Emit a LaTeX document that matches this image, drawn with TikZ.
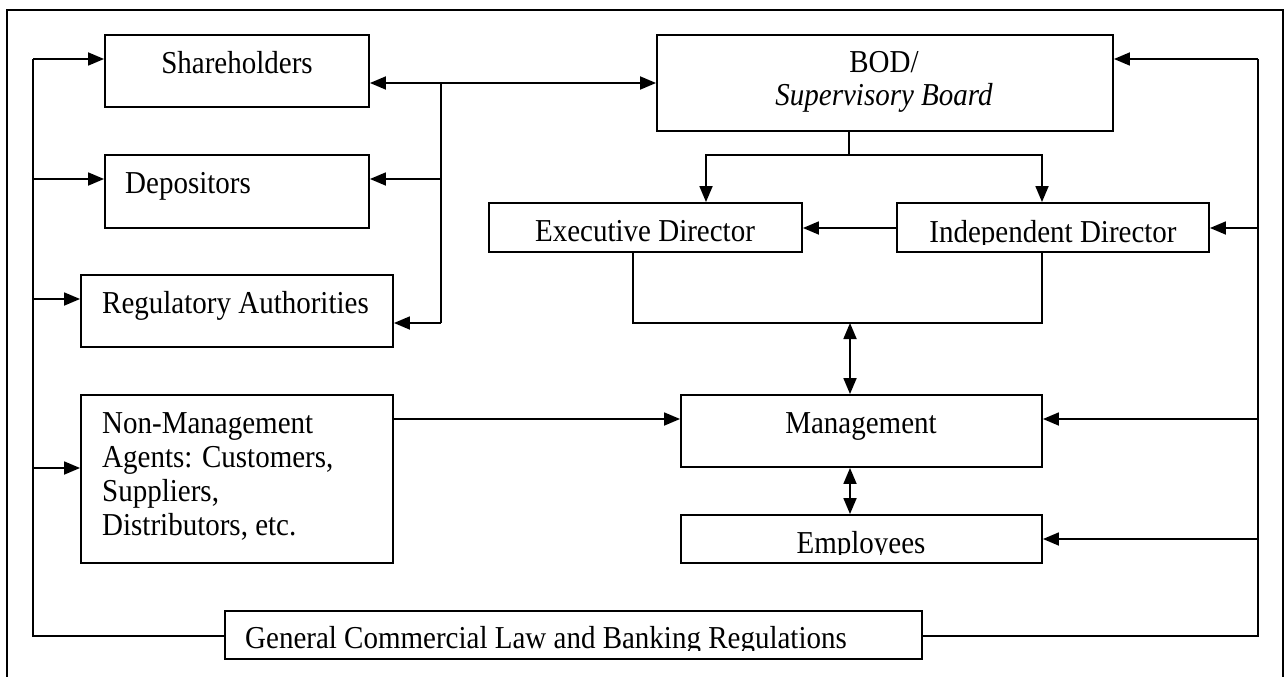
\documentclass[tikz,border=0pt]{standalone}
\usepackage{fontspec}
\setmainfont{Liberation Serif}
\usetikzlibrary{arrows.meta}
\tikzset{
  bx/.style={draw, line width=1.9pt, rectangle, inner sep=0pt},
  ln/.style={line width=1.8pt},
  ar/.style={line width=1.8pt, -{Triangle[length=16pt,width=13pt]}},
  dar/.style={line width=1.8pt, {Triangle[length=16pt,width=13pt]}-{Triangle[length=16pt,width=13pt]}},
  tx/.style={inner sep=0pt, font=\fontsize{29}{34}\selectfont},
}
\newcommand{\mybox}[5]{\node[bx, minimum width={#4-#2}, minimum height={#5-#3}] (#1) at ({(#2+#4)/2},{(#3+#5)/2}) {};}
\newcommand{\tl}[1]{\scalebox{1}[1.1]{#1}}
\begin{document}
\begin{tikzpicture}[x=1pt,y=-1pt]
\useasboundingbox (0,0) rectangle (1285,677);
% outer frame (open at bottom)
\coordinate (fbl) at (7,677);
\coordinate (ftl) at (7,10);
\coordinate (ftr) at (1283,10);
\coordinate (fbr) at (1283,677);
\draw[ln] (fbl) -- (ftl) -- (ftr) -- (fbr);

% boxes
\mybox{sh}{105}{35}{369}{107}
\mybox{dep}{105}{155}{369}{228}
\mybox{reg}{81}{275}{393}{347}
\mybox{nm}{81}{395}{393}{563}
\mybox{gen}{225}{611}{922}{659}
\mybox{bod}{657}{35}{1113}{131}
\mybox{exe}{489}{203}{802}{252}
\mybox{ind}{897}{203}{1209}{252}
\mybox{mgt}{681}{395}{1042}{467}
\mybox{emp}{681}{515}{1042}{563}

% texts
\node[tx, anchor=base] (tsh) at (237,74) {\tl{Shareholders}};
\node[tx, anchor=base west] (tdep) at (125,193) {\tl{Depositors}};
\node[tx, anchor=base west] (treg) at (102,313) {\tl{Regulatory Authorities}};
\node[tx, anchor=base west] (tnm1) at (102,433) {\tl{Non-Management}};
\node[tx, anchor=base west] (tnm2) at (102,467) {\tl{Agents: Customers,}};
\node[tx, anchor=base west] (tnm3) at (102,501) {\tl{Suppliers,}};
\node[tx, anchor=base west] (tnm4) at (102,535) {\tl{Distributors, etc.}};
\node[tx, anchor=base] (tbod1) at (884,73) {\tl{BOD/}};
\node[tx, anchor=base] (tbod2) at (884,106) {\tl{\itshape Supervisory Board}};
\node[tx, anchor=base] (texe) at (645,241) {\tl{Executive Director}};
\begin{scope}
\clip (897,205) rectangle (1209,244);
\node[tx, anchor=base] (tind) at (1053,242) {\tl{Independent Director}};
\end{scope}
\node[tx, anchor=base] (tmgt) at (861,433) {\tl{Management}};
\begin{scope}
\clip (681,517) rectangle (1042,554.5);
\node[tx, anchor=base] (temp) at (861,553) {\tl{Employees}};
\end{scope}
\begin{scope}
\clip (225,613) rectangle (922,650);
\node[tx, anchor=base west] (tgen) at (245,648) {\tl{General Commercial Law and Banking Regulations}};
\end{scope}

% left feedback loop
\coordinate (lb) at (33,636);
\coordinate (lt) at (33,59);
\draw[ln] (gen.west |- lb) -- (lb) -- (lt);
\draw[ar] (lt) -- (sh.west |- lt);
\draw[ar] (33,179) -- (dep.west |- 0,179);
\draw[ar] (33,299) -- (reg.west |- 0,299);
\draw[ar] (33,468) -- (nm.west |- 0,468);

% right feedback loop
\coordinate (rb) at (1258,636);
\coordinate (rt) at (1258,59);
\draw[ln] (gen.east |- rb) -- (rb) -- (rt);
\draw[ar] (rt) -- (bod.east |- rt);
\draw[ar] (1258,228) -- (ind.east |- 0,228);
\draw[ar] (1258,419) -- (mgt.east |- 0,419);
\draw[ar] (1258,539) -- (emp.east |- 0,539);

% shareholders <-> BOD and bracket
\coordinate (bt) at (441,83);
\coordinate (bb) at (441,323);
\draw[dar] (sh.east |- bt) -- (bod.west |- bt);
\draw[ln] (bt) -- (bb);
\draw[ar] (441,179) -- (dep.east |- 0,179);
\draw[ar] (bb) -- (reg.east |- bb);

% BOD to directors
\coordinate (bj) at (849,155);
\coordinate (bl) at (706,155);
\coordinate (br) at (1042,155);
\draw[ln] (bod.south -| bj) -- (bj);
\draw[ar] (bj) -- (bl) -- (exe.north -| bl);
\draw[ar] (bj) -- (br) -- (ind.north -| br);
\draw[ar] (ind.west |- 0,228) -- (exe.east |- 0,228);

% directors to management
\coordinate (dl) at (633,323);
\coordinate (dr) at (1042,323);
\coordinate (dm) at (850,323);
\draw[ln] (exe.south -| dl) -- (dl) -- (dr) -- (ind.south -| dr);
\draw[dar] (dm) -- (mgt.north -| dm);
\draw[dar] (mgt.south -| dm) -- (emp.north -| dm);

% non-management to management
\draw[ar] (nm.east |- 0,419) -- (mgt.west |- 0,419);
\end{tikzpicture}
\end{document}
